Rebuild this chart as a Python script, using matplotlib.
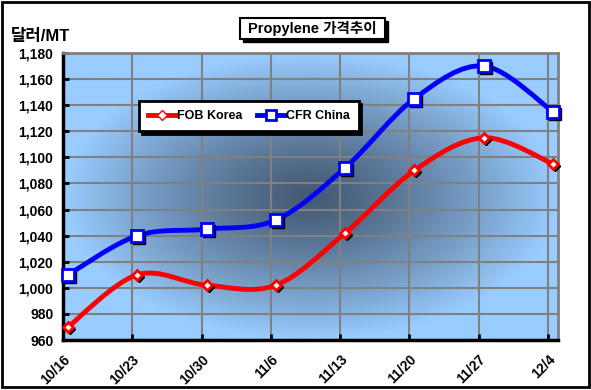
import numpy as np
import matplotlib
matplotlib.use('Agg')
import matplotlib.pyplot as plt
from matplotlib.path import Path
from matplotlib.patches import PathPatch, Rectangle
import matplotlib.transforms as mtransforms

plt.rcParams['font.family'] = ['Liberation Sans', 'Noto Sans CJK KR', 'DejaVu Sans']

dates = ['10/16', '10/23', '10/30', '11/6', '11/13', '11/20', '11/27', '12/4']
fob_korea = [970, 1010, 1002, 1002, 1042, 1090, 1115, 1095]
cfr_china = [1010, 1040, 1045, 1052, 1092, 1145, 1170, 1135]


def smooth_path(xs, ys):
    # Excel-style smoothed line: cubic bezier through every point
    pts = np.column_stack([xs, ys]).astype(float)
    n = len(pts)
    verts = [pts[0]]
    codes = [Path.MOVETO]
    for i in range(n - 1):
        p0 = pts[i - 1] if i > 0 else pts[i]
        p1 = pts[i]
        p2 = pts[i + 1]
        p3 = pts[i + 2] if i + 2 < n else pts[i + 1]
        c1 = p1 + (p2 - p0) / 6.0
        c2 = p2 - (p3 - p1) / 6.0
        verts += [c1, c2, p2]
        codes += [Path.CURVE4] * 3
    return Path(verts, codes)


def fig_rect(x0, y0, x1, y1, **kw):
    # rectangle given in pixel coords from top-left
    return Rectangle((x0 / 591, 1 - y1 / 390), (x1 - x0) / 591, (y1 - y0) / 390,
                     transform=fig.transFigure, **kw)


fig = plt.figure(figsize=(5.91, 3.9), dpi=100)
ax = fig.add_axes([63 / 591, 1 - 340 / 390, 495 / 591, 287 / 390])

x = np.arange(len(dates))
off = 0.072
ax.set_xlim(-off, len(dates) - 1 + off)
ax.set_ylim(960, 1180)

# gradient background (dark centre, light blue edges)
gx, gy = np.meshgrid(np.linspace(-1, 1, 300), np.linspace(-1, 1, 200))
r = np.clip(np.sqrt((gx / 1.0) ** 2 + (gy / 1.0) ** 2), 0, 1) ** 1.25
c_in = np.array([0.27, 0.35, 0.45])
c_out = np.array([0.60, 0.80, 1.0])
img = c_in[None, None, :] * (1 - r[..., None]) + c_out[None, None, :] * r[..., None]
ax.imshow(img, extent=[0, 1, 0, 1], transform=ax.transAxes, aspect='auto',
          zorder=0, interpolation='bilinear')

ax.set_xticks(x - off)
ax.set_xticklabels(dates, rotation=45, ha='right', va='top',
                   fontsize=10, fontweight='bold', rotation_mode='anchor')
ax.set_yticks(np.arange(960, 1181, 20))
ax.set_yticklabels([f'{v:,}' for v in range(960, 1181, 20)],
                   fontsize=10, fontweight='bold')
ax.grid(True, color='#808080', linewidth=1.5, zorder=1)
ax.tick_params(axis='both', length=4, width=2, direction='in', pad=7)
ax.tick_params(axis='x', pad=9)

for side in ['top', 'right']:
    ax.spines[side].set_color('#808080')
    ax.spines[side].set_linewidth(2)
for side in ['left', 'bottom']:
    ax.spines[side].set_color('black')
    ax.spines[side].set_linewidth(2.5)

shadow = mtransforms.offset_copy(ax.transData, fig=fig, x=2, y=-2, units='dots')

series = [(fob_korea, 'red', 'D', 5, 'FOB Korea'),
          (cfr_china, 'blue', 's', 8, 'CFR China')]
for vals, col, mk, ms, lab in series:
    ax.add_patch(PathPatch(smooth_path(x, vals), facecolor='none', edgecolor=col,
                           linewidth=3.5, zorder=3, capstyle='round'))
    ax.plot(x, vals, linestyle='none', marker=mk, markersize=ms, color='black',
            transform=shadow, zorder=4, clip_on=False)
    ax.plot(x, vals, linestyle='none', marker=mk, markersize=ms,
            markerfacecolor='white', markeredgecolor=col, markeredgewidth=2,
            zorder=5, clip_on=False)

# legend proxies
h1, = ax.plot([], [], color='red', linewidth=3.5, marker='D', markersize=5,
              markerfacecolor='white', markeredgecolor='red')
h2, = ax.plot([], [], color='blue', linewidth=3.5, marker='s', markersize=7,
              markerfacecolor='white', markeredgecolor='blue', markeredgewidth=2)
leg = fig.legend([h1, h2], ['FOB Korea', 'CFR China'], ncol=2,
                 loc='upper left', bbox_to_anchor=(133 / 591, 1 - 95 / 390),
                 frameon=True, fancybox=False, shadow={'color': 'black', 'alpha': 1},
                 handlelength=2.2, handletextpad=0.1,
                 columnspacing=1.2, borderpad=0.7, edgecolor='black',
                 prop={'weight': 'bold', 'size': 9})
leg.get_frame().set_linewidth(2)
leg.set_zorder(10)

# title box with shadow
fig.patches.append(fig_rect(243, 21, 388, 42, facecolor='black', edgecolor='black'))
fig.patches.append(fig_rect(240, 18, 385, 39, facecolor='white', edgecolor='black',
                            linewidth=1.5))
fig.text(312.5 / 591, 1 - 28.5 / 390, 'Propylene 가격추이', ha='center', va='center',
         fontsize=10.5, fontweight='bold')

fig.text(11 / 591, 1 - 36 / 390, '달러/MT', ha='left', va='center',
         fontsize=12, fontweight='bold')

fig.patches.append(fig_rect(2, 2, 589, 387, fill=False, edgecolor='black',
                            linewidth=2))

fig.savefig('out.png', dpi=100)
